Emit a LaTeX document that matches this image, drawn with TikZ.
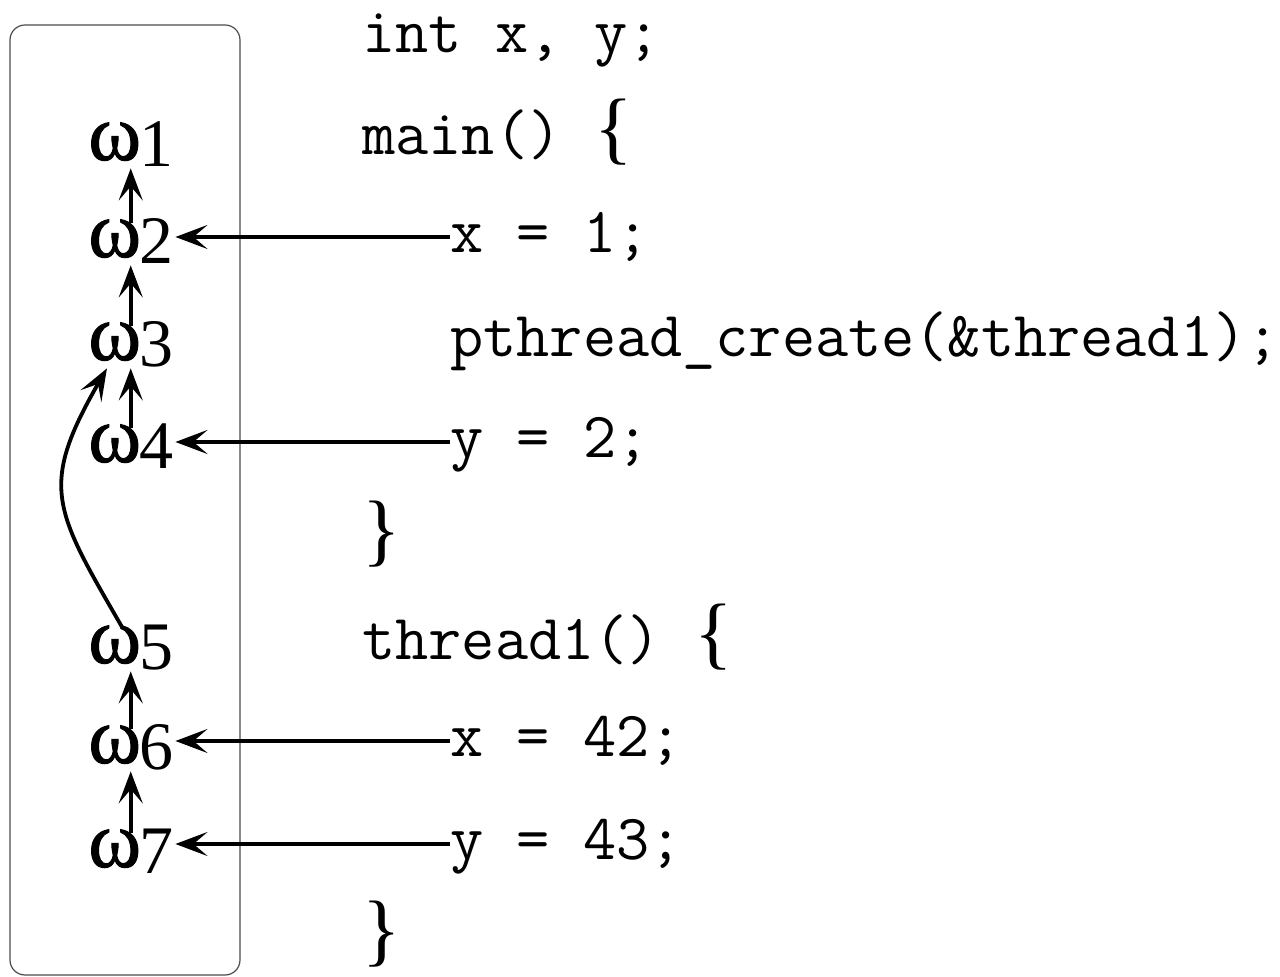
\documentclass[tikz,border=0pt]{standalone}
\usepackage{fontspec}
\setmainfont{Liberation Serif}
\newfontfamily\omegafont[FakeBold=1.2]{Liberation Serif}
\usetikzlibrary{arrows.meta, positioning}
\tikzset{
  % events on the left
  event/.style={inner xsep=1pt, inner ysep=0pt, text height=17pt, text depth=4pt, anchor=base west},
  % program text
  codeline/.style={inner sep=0pt, anchor=base west, text height=16pt, text depth=0pt,
    font=\ttfamily\fontsize{32.2}{32.2}\selectfont},
  % arrows
  flow/.style={-{Stealth[length=16pt, width=12pt, inset=7pt]}, line width=1.9pt},
  frame/.style={draw=black!70, line width=0.6pt, rounded corners=7.5pt},
}
\newcommand{\om}[1]{{\omegafont\fontsize{40}{40}\selectfont ω}\kern-1pt\raisebox{-3.5pt}{\fontsize{34}{34}\selectfont #1}}
\newcommand{\brc}[1]{{\rmfamily\fontsize{40}{40}\selectfont #1}}

\begin{document}
\begin{tikzpicture}[x=0.5pt, y=0.5pt]
  \useasboundingbox (0,0) rectangle (1280,-977);

  % box round the events
  \draw[frame] (10,-25) rectangle (240,-975);

  % events
  \node[event] (w1) at (86,-160) {\om{1}};
  \node[event] (w2) at (86,-257) {\om{2}};
  \node[event] (w3) at (86,-360) {\om{3}};
  \node[event] (w4) at (86,-462) {\om{4}};
  \node[event] (w5) at (86,-663) {\om{5}};
  \node[event] (w6) at (86,-763) {\om{6}};
  \node[event] (w7) at (86,-867) {\om{7}};

  % program
  \node[codeline] (decl) at (362,-53) {int x, y;};
  \node[codeline] (mainhead) at (362,-155) {main() \brc{\{}};
  \node[codeline] (xone) at (450,-253) {x = 1;};
  \node[codeline] (create) at (450,-357) {pthread\_create(\&thread1);};
  \node[codeline] (ytwo) at (450,-458) {y = 2;};
  \node[codeline] (mainend) at (362,-557) {\brc{\}}};
  \node[codeline] (threadhead) at (362,-660) {thread1() \brc{\{}};
  \node[codeline] (xfortytwo) at (450,-757) {x = 42;};
  \node[codeline] (yfortythree) at (450,-860) {y = 43;};
  \node[codeline] (threadend) at (362,-957) {\brc{\}}};

  % order of events
  \draw[flow] (w2) -- (w1);
  \draw[flow] (w3) -- (w2);
  \draw[flow] (w4) -- (w3);
  \draw[flow] (w6) -- (w5);
  \draw[flow] (w7) -- (w6);
  \draw[flow] (w5.110) to[out=120, in=240, looseness=1.35] (w3.222);

  % writes to events
  \draw[flow] (xone.west) -- (xone.west -| w2.east);
  \draw[flow] (ytwo.west) -- (ytwo.west -| w4.east);
  \draw[flow] (xfortytwo.west) -- (xfortytwo.west -| w6.east);
  \draw[flow] (yfortythree.west) -- (yfortythree.west -| w7.east);

\end{tikzpicture}
\end{document}
